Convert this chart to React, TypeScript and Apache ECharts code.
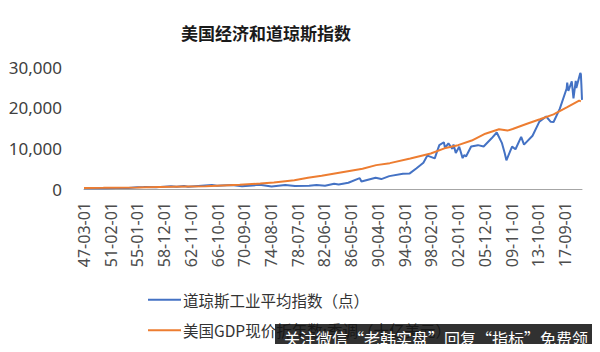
import React, { useEffect, useRef } from "react";
import * as echarts from "echarts";

const TITLE = "美国经济和道琼斯指数";
const SERIES_DOW = "道琼斯工业平均指数（点）";
const SERIES_GDP = "美国GDP现价折年数:季调（十亿美元）";
const WATERMARK = "关注微信“老韩实盘”回复“指标”免费领";

// Monthly categories, 1947-03 .. 2020-03 (labels shown every 47 months)
const START_YEAR = 1947;
const START_MONTH = 3;
const END_YEAR = 2020;
const END_MONTH = 3;
const categories: string[] = [];
for (let y = START_YEAR; y <= END_YEAR; y++) {
  for (let m = 1; m <= 12; m++) {
    if (y === START_YEAR && m < START_MONTH) continue;
    if (y === END_YEAR && m > END_MONTH) continue;
    categories.push(`${String(y % 100).padStart(2, "0")}-${String(m).padStart(2, "0")}-01`);
  }
}

// Dow Jones Industrial Average (points)
const dowDates = [
  "47-03-01", "48-06-01", "49-06-01", "50-06-01", "51-12-01", "53-09-01", "54-12-01", "55-12-01",
  "56-03-01", "57-10-01", "58-12-01", "59-12-01", "60-10-01", "61-11-01", "62-06-01", "63-12-01",
  "65-12-01", "66-09-01", "68-11-01", "70-05-01", "72-12-01", "74-09-01", "76-09-01", "78-02-01",
  "80-03-01", "81-04-01", "82-07-01", "83-11-01", "84-07-01", "85-12-01", "87-08-01", "87-11-01",
  "89-12-01", "90-10-01", "91-12-01", "93-12-01", "94-12-01", "95-12-01", "96-12-01", "97-07-01",
  "98-08-01", "98-12-01", "99-04-01", "99-12-01", "00-02-01", "00-08-01", "01-03-01", "01-05-01",
  "01-09-01", "02-03-01", "02-09-01", "02-12-01", "03-03-01", "03-12-01", "04-12-01", "05-10-01",
  "06-12-01", "07-09-01", "08-06-01", "08-11-01", "09-02-01", "09-12-01", "10-06-01", "11-04-01",
  "11-09-01", "12-12-01", "13-12-01", "14-12-01", "15-08-01", "16-01-01", "16-12-01", "17-12-01",
  "18-01-01", "18-03-01", "18-09-01", "18-12-01", "19-04-01", "19-05-01", "19-12-01", "20-01-01",
  "20-02-01", "20-03-01",
];
const dowValues = [
  177, 190, 167, 209, 269, 264, 404, 488,
  511, 441, 584, 679, 580, 721, 561, 762,
  969, 774, 985, 700, 1020, 608, 990, 742,
  785, 997, 809, 1276, 1115, 1546, 2663, 1833,
  2753, 2442, 3168, 3754, 3834, 5117, 6448, 8222,
  7539, 9181, 10789, 11497, 10128, 11215, 9879, 10912,
  8848, 10404, 7592, 8342, 7992, 10454, 10783, 10440,
  12463, 13896, 11350, 8829, 7063, 10428, 9774, 12811,
  10913, 13104, 16577, 17823, 16528, 16466, 19763, 24719,
  26149, 24103, 26458, 22300, 26593, 24815, 28538, 28256,
  25409, 21917,
];

// US GDP, current prices, SAAR (billion USD)
const gdpDates = [
  "47-03-01", "50-01-01", "55-01-01", "60-01-01", "65-01-01", "70-01-01", "73-01-01", "75-01-01",
  "78-01-01", "80-01-01", "82-01-01", "85-01-01", "88-01-01", "90-01-01", "92-01-01", "95-01-01",
  "98-01-01", "00-01-01", "02-01-01", "04-01-01", "06-01-01", "08-01-01", "09-04-01", "10-01-01",
  "12-01-01", "14-01-01", "16-01-01", "18-01-01", "19-10-01", "20-01-01",
];
const gdpValues = [
  243, 280, 390, 540, 680, 1030, 1330, 1590,
  2170, 2790, 3270, 4140, 4990, 5870, 6360, 7520,
  8740, 10000, 10780, 11920, 13600, 14680, 14360, 14760,
  15970, 17140, 18360, 20160, 21750, 21560,
];

const Y_MIN = 0;
const Y_MAX = 30000;
const Y_INTERVAL = 10000;

export default function App() {
  const ref = useRef<HTMLDivElement>(null);
  useEffect(() => {
    if (!ref.current) return;
    const chart = echarts.init(ref.current, undefined, { renderer: "svg" });
    const dowData = dowDates.map((d, i) => [d, dowValues[i]]);
    const gdpData = gdpDates.map((d, i) => [d, gdpValues[i]]);
    chart.setOption({
      animation: false,
      backgroundColor: "#ffffff",
      title: {
        text: TITLE,
        left: 261,
        textAlign: "center",
        top: 19,
        textStyle: {
          fontFamily: "Noto Sans CJK SC",
          fontSize: 17,
          fontWeight: "bold",
          color: "#1a1a1a",
        },
      },
      grid: { left: 84, right: 18, top: 67, bottom: 163, containLabel: false },
      xAxis: {
        type: "category",
        data: categories,
        boundaryGap: false,
        axisLine: { show: true, lineStyle: { color: "#a6a6a6", width: 1 } },
        axisTick: { show: false },
        splitLine: { show: false },
        axisLabel: {
          interval: 46,
          rotate: 90,
          margin: 13,
          fontFamily: "Noto Sans",
          fontSize: 16,
          color: "#4d4d4d",
        },
      },
      yAxis: {
        type: "value",
        min: Y_MIN,
        max: Y_MAX,
        interval: Y_INTERVAL,
        axisLine: { show: false },
        axisTick: { show: false },
        splitLine: { show: false },
        axisLabel: {
          margin: 22,
          fontFamily: "Noto Sans",
          fontSize: 17,
          color: "#404040",
          formatter: (v: number) => v.toLocaleString("en-US"),
        },
      },
      legend: {
        orient: "vertical",
        left: 143,
        top: 287,
        itemGap: 15,
        itemWidth: 33,
        itemHeight: 2,
        icon: "rect",
        textStyle: {
          fontFamily: "Noto Sans CJK SC",
          fontSize: 15.5,
          color: "#333333",
          padding: [0, 0, 0, -3],
        },
        data: [SERIES_DOW, SERIES_GDP],
      },
      series: [
        {
          name: SERIES_DOW,
          type: "line",
          data: dowData,
          showSymbol: false,
          symbol: "none",
          lineStyle: { color: "#4472C4", width: 2 },
          itemStyle: { color: "#4472C4" },
          z: 2,
        },
        {
          name: SERIES_GDP,
          type: "line",
          data: gdpData,
          showSymbol: false,
          symbol: "none",
          lineStyle: { color: "#ED7D31", width: 2 },
          itemStyle: { color: "#ED7D31" },
          z: 3,
        },
      ],
      graphic: [
        {
          type: "rect",
          shape: { x: -2, y: 1, width: 596, height: 360 },
          style: { fill: "none", stroke: "#c8c8c8", lineWidth: 1.5 },
          silent: true,
          z: 100,
        },
        {
          type: "rect",
          shape: { x: 275, y: 324, width: 330, height: 30 },
          style: { fill: "rgba(20,20,20,0.88)" },
          silent: true,
          z: 101,
        },
        {
          type: "text",
          x: 284,
          y: 338,
          style: {
            text: WATERMARK,
            fill: "#ffffff",
            fontFamily: "Noto Sans CJK SC",
            fontSize: 16,
            verticalAlign: "middle",
          },
          silent: true,
          z: 102,
        },
      ],
    });
    return () => chart.dispose();
  }, []);
  return <div ref={ref} style={{ width: 600, height: 352, margin: -8 }} />;
}
